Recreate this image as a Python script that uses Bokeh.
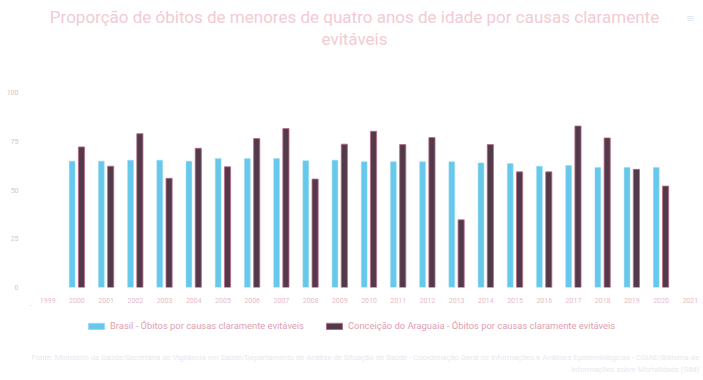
from bokeh.plotting import figure
from bokeh.layouts import column
from bokeh.models import ColumnDataSource, Legend, LegendItem, FixedTicker, Range1d
from bokeh.core.properties import value
from bokeh.transform import dodge
from bokeh.embed import file_html
from bokeh.resources import INLINE

years = list(range(2000, 2021))
brasil = [64.8, 64.8, 65.3, 65.3, 64.8, 66.2, 66.2, 66.2, 65.0, 65.3, 64.5,
          64.5, 64.5, 64.5, 63.9, 63.6, 62.2, 62.6, 61.6, 61.6, 61.6]
conceicao = [72.1, 62.2, 78.9, 56.0, 71.4, 61.9, 76.4, 81.5, 55.6, 73.5, 80.1,
             73.3, 76.9, 34.7, 73.3, 59.3, 59.3, 82.8, 76.7, 60.6, 52.0]
tick_years = list(range(1999, 2022))
y_ticks = [0, 25, 50, 75, 100]

title1 = "Proporção de óbitos de menores de quatro anos de idade por causas claramente"
title2 = "evitáveis"
name_brasil = "Brasil - Óbitos por causas claramente evitáveis"
name_conc = "Conceição do Araguaia - Óbitos por causas claramente evitáveis"
footer1 = ("Fonte: Ministério da Saúde/Secretaria de Vigilância em Saúde/Departamento de Análise de "
           "Situação de Saúde - Coordenação Geral de Informações e Análises Epidemiológicas - CGIAE/Sistema de")
footer2 = "Informações sobre Mortalidade (SIM)"

FONT = "Roboto"
W = 703
LEFT, RIGHT = 30, 3
BLUE = "#66c9eb"
BLUE_LINE = "#9adbf1"
DARK = "#523a4b"
DARK_LINE = "#b86a86"


def blank(h):
    # frame is aligned with the main chart's frame by the column layout,
    # so the x range maps data x directly onto page x
    f = figure(width=W, height=h, output_backend="svg", toolbar_location=None,
               x_range=Range1d(LEFT, W - RIGHT), y_range=Range1d(h, 0),
               x_axis_location=None, y_axis_location=None,
               min_border_left=LEFT, min_border_right=RIGHT,
               min_border_top=0, min_border_bottom=0)
    f.outline_line_color = None
    f.grid.grid_line_color = None
    return f


# ---- top: title
top = blank(80)
top.text(x=[354, 354], y=[16, 38], text=[title1, title2], text_font=value(FONT),
         text_font_size="17px", text_color="#f2cbd3", text_align="center",
         text_baseline="middle")
top.text(x=[690], y=[17], text=["≡"], text_font=value(FONT), text_font_size="14px",
         text_color="#dde3ec", text_align="center", text_baseline="middle")

# ---- main chart
src = ColumnDataSource(dict(year=years, brasil=brasil, conceicao=conceicao))
p = figure(width=W, height=225, output_backend="svg", toolbar_location=None,
           x_range=Range1d(1998.41, 2021.35), y_range=Range1d(0, 100),
           min_border_left=LEFT, min_border_right=RIGHT, min_border_top=12, min_border_bottom=17)
p.outline_line_color = None
p.xgrid.grid_line_color = None
p.ygrid.grid_line_color = None

p.vbar(x=dodge("year", -0.165, range=p.x_range), top="brasil", width=0.2, source=src,
       fill_color=BLUE, line_color=BLUE_LINE, line_width=0.5)
p.vbar(x=dodge("year", 0.155, range=p.x_range), top="conceicao", width=0.21, source=src,
       fill_color=DARK, line_color=DARK_LINE, line_width=0.8)

for ax in (p.xaxis[0], p.yaxis[0]):
    ax.axis_line_color = None
    ax.major_tick_line_color = None
    ax.minor_tick_line_color = None
    ax.major_label_text_font = FONT
    ax.major_label_text_font_size = "7px"
    ax.major_label_text_color = "#e6bcc6"
p.xaxis.ticker = FixedTicker(ticks=tick_years)
p.yaxis.ticker = FixedTicker(ticks=y_ticks)
p.xaxis.major_label_standoff = 4
p.yaxis.major_label_standoff = 6

# ---- bottom: legend + footer
bot = blank(75)
dummy = ColumnDataSource(dict(x=[-1000], top=[0]))
lb = bot.vbar(x="x", top="top", width=1, source=dummy, fill_color=BLUE, line_color=BLUE_LINE)
lc = bot.vbar(x="x", top="top", width=1, source=dummy, fill_color=DARK, line_color=DARK_LINE)
legend = Legend(items=[LegendItem(label=name_brasil, renderers=[lb]),
                       LegendItem(label=name_conc, renderers=[lc])],
                orientation="horizontal", location=(56, 49),
                label_text_font=FONT, label_text_font_size="9.4px",
                label_text_color="#dc9fb0", glyph_width=20, glyph_height=8,
                spacing=20, padding=0, margin=0, border_line_color=None,
                background_fill_alpha=0, label_standoff=4, label_height=8)
bot.add_layout(legend, "center")
bot.text(x=[31], y=[52], text=[footer1], text_font=value(FONT), text_font_size="7.7px",
         text_color="#e8e8ef", text_align="left", text_baseline="middle")
bot.text(x=[699], y=[64], text=[footer2], text_font=value(FONT), text_font_size="7.7px",
         text_color="#e8e8ef", text_align="right", text_baseline="middle")

layout = column(top, p, bot, spacing=0)
open("out.html", "w").write(file_html(layout, INLINE))
